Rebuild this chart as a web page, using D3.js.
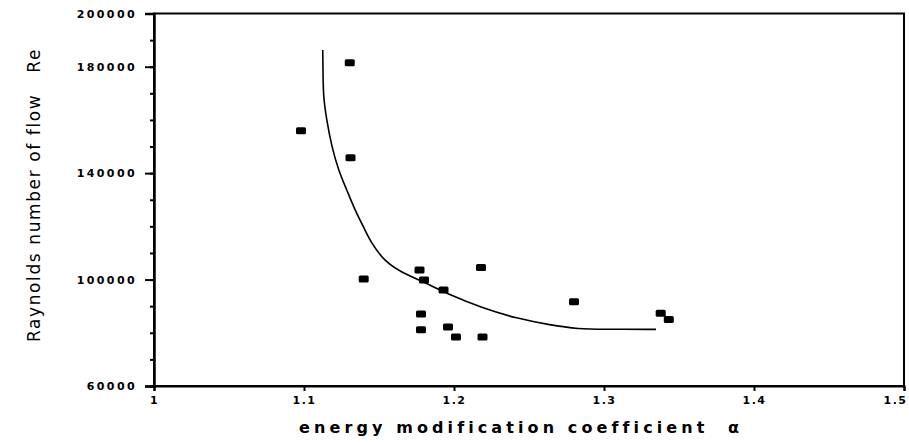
<!DOCTYPE html>
<html><head><meta charset="utf-8">
<script src="https://cdn.jsdelivr.net/npm/d3@7"></script>
<style>
body{margin:0;background:#fff;}
svg{display:block;}
text{font-family:"DejaVu Sans",sans-serif;fill:#000;}
</style></head>
<body>
<svg id="c" width="909" height="444"></svg>
<script>
const alphaVals = [1.098,1.1305,1.131,1.1398,1.177,1.180,1.193,1.218,1.280,1.178,1.178,1.196,1.2013,1.219,1.3378,1.3432];
const reVals    = [155900,181500,145800,100200,103600,99800,96100,104500,91650,87100,81100,82200,78400,78450,87300,85000];
const fitAlpha = [1.1125,1.1127,1.1129,1.1151,1.1185,1.1229,1.1285,1.134,1.1407,1.1451,1.1529,1.164,1.1795,1.1973,1.2195,1.2418,1.264,1.284,1.2973,1.3347];
const fitRe    = [186300,177000,168700,160000,149900,141200,133700,126100,118600,113600,107400,102900,99200,94200,89200,85400,82900,81400,81300,81300];
const xTicks = [1,1.1,1.2,1.3,1.4,1.5];
const xTickLabels = ["1","1.1","1.2","1.3","1.4","1.5"];
const yTicks = [60000,100000,140000,180000,200000];
const yTickLabels = ["60000","100000","140000","180000","200000"];
const yMinor = d3.range(60000,200001,10000);

const svg = d3.select("#c");
const x = d3.scaleLinear().domain([1,1.5]).range([154,904]);
const y = d3.scaleLinear().domain([60000,200000]).range([386,13.5]);

// frame
svg.append("rect").attr("x",154).attr("y",13.5).attr("width",750).attr("height",372.5)
  .attr("fill","none").attr("stroke","#000").attr("stroke-width",2);

// y axis
const yMinorAx = d3.axisLeft(y).tickValues(yMinor).tickSize(4).tickFormat("");
svg.append("g").attr("transform","translate(154,0)").call(yMinorAx)
  .call(g=>g.select(".domain").remove())
  .selectAll("line").attr("stroke","#000").attr("stroke-width",2);
const yAx = d3.axisLeft(y).tickValues(yTicks).tickSize(9).tickPadding(8)
  .tickFormat((d,i)=>yTickLabels[i]);
const yg = svg.append("g").attr("transform","translate(154,0)").call(yAx);
yg.select(".domain").attr("stroke","#000").attr("stroke-width",2.5);
yg.selectAll("line").attr("stroke","#000").attr("stroke-width",2);
yg.selectAll("text").attr("font-size",11).attr("font-weight","bold")
  .attr("letter-spacing",2.4).attr("font-family","'DejaVu Sans',sans-serif").attr("fill","#000");

// x axis
const xAx = d3.axisBottom(x).tickValues(xTicks).tickSize(5).tickPadding(5)
  .tickFormat((d,i)=>xTickLabels[i]);
const xg = svg.append("g").attr("transform","translate(0,386)").call(xAx);
xg.select(".domain").attr("stroke","#000").attr("stroke-width",2);
xg.selectAll("line").attr("stroke","#000").attr("stroke-width",2);
xg.selectAll("text").attr("font-size",11).attr("font-weight","bold")
  .attr("letter-spacing",1.5).attr("font-family","'DejaVu Sans',sans-serif").attr("fill","#000");
xg.selectAll(".tick").filter(d=>d===1.5).select("text").attr("text-anchor","end").attr("x",3);

// curve
const line = d3.line().x((d,i)=>x(fitAlpha[i])).y((d,i)=>y(fitRe[i])).curve(d3.curveBasis);
svg.append("path").attr("d",line(fitAlpha)).attr("fill","none").attr("stroke","#000").attr("stroke-width",1.6);

// points
svg.append("g").selectAll("rect").data(alphaVals).join("rect")
  .attr("x",(d)=>x(d)-5).attr("y",(d,i)=>y(reVals[i])-3.5)
  .attr("width",10).attr("height",7).attr("rx",1.5).attr("fill","#000");

// titles
svg.append("text").attr("x",521).attr("y",433).attr("text-anchor","middle")
  .attr("font-size",16).attr("font-weight","bold").attr("letter-spacing",4.1)
  .attr("xml:space","preserve")
  .text("energy modification coefficient  α");
svg.append("text").attr("transform","translate(40,195) rotate(-90)").attr("text-anchor","middle")
  .attr("font-size",17).attr("letter-spacing",1.6).attr("xml:space","preserve")
  .text("Raynolds number of flow   Re");
</script>
</body></html>
